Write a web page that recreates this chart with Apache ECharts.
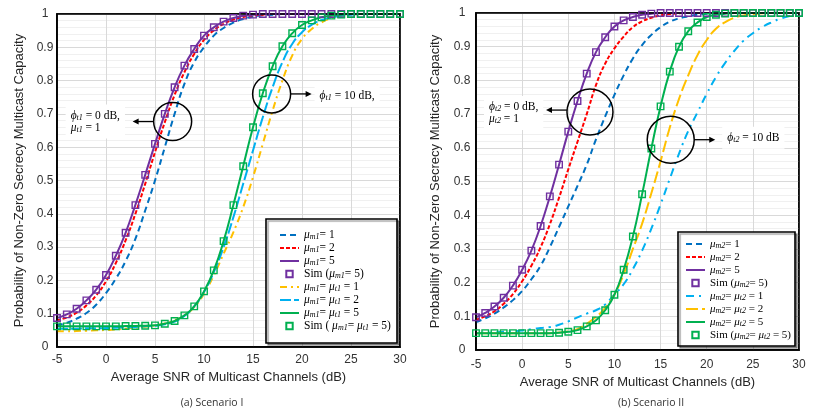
<!DOCTYPE html>
<html>
<head>
<meta charset="utf-8">
<script src="https://cdn.jsdelivr.net/npm/echarts@6/dist/echarts.min.js"></script>
<style>
  html, body { margin: 0; padding: 0; background: #fff; }
  #main { width: 830px; height: 415px; }
</style>
</head>
<body>
<div id="main"></div>
<script>
// average SNR (dB), shared by every curve
const snr = [-5, -4, -3, -2, -1, 0, 1, 2, 3, 4, 5, 6, 7, 8, 9, 10, 11, 12, 13, 14, 15, 16, 17, 18, 19, 20, 21, 22, 23, 24, 25, 26, 27, 28, 29, 30];

// (a) Scenario I
const aM1 = [0.065, 0.073, 0.085, 0.102, 0.127, 0.162, 0.205, 0.258, 0.325, 0.41, 0.5, 0.6, 0.7, 0.79, 0.855, 0.9, 0.935, 0.958, 0.974, 0.985, 0.992, 0.996, 0.998, 1, 1, 1, 1, 1, 1, 1, 1, 1, 1, 1, 1, 1];
const aM2 = [0.08, 0.089, 0.103, 0.125, 0.155, 0.197, 0.252, 0.32, 0.4, 0.49, 0.585, 0.675, 0.757, 0.825, 0.88, 0.922, 0.951, 0.97, 0.983, 0.991, 0.996, 0.998, 1, 1, 1, 1, 1, 1, 1, 1, 1, 1, 1, 1, 1, 1];
const aM5 = [0.087, 0.098, 0.115, 0.14, 0.172, 0.216, 0.274, 0.343, 0.427, 0.517, 0.61, 0.7, 0.78, 0.845, 0.895, 0.935, 0.96, 0.977, 0.988, 0.995, 0.998, 1, 1, 1, 1, 1, 1, 1, 1, 1, 1, 1, 1, 1, 1, 1];
const aSimM5 = [0.087, 0.098, 0.115, 0.14, 0.172, 0.216, 0.274, 0.343, 0.426, 0.517, 0.61, 0.7, 0.78, 0.845, 0.895, 0.935, 0.96, 0.977, 0.988, 0.995, 0.998, 1, 1, 1, 1, 1, 1, 1, 1, 1, 1, 1, 1, 1, 1, 1];
const aT1 = [0.047, 0.047, 0.048, 0.049, 0.05, 0.051, 0.053, 0.055, 0.058, 0.061, 0.065, 0.071, 0.08, 0.095, 0.12, 0.16, 0.215, 0.28, 0.345, 0.42, 0.51, 0.61, 0.71, 0.8, 0.875, 0.925, 0.955, 0.975, 0.987, 0.994, 0.998, 1, 1, 1, 1, 1];
const aT2 = [0.055, 0.055, 0.055, 0.056, 0.056, 0.057, 0.058, 0.059, 0.06, 0.062, 0.064, 0.068, 0.076, 0.093, 0.122, 0.165, 0.225, 0.3, 0.39, 0.49, 0.59, 0.69, 0.78, 0.855, 0.91, 0.945, 0.968, 0.982, 0.99, 0.995, 0.998, 1, 1, 1, 1, 1];
const aT5 = [0.062, 0.062, 0.062, 0.062, 0.062, 0.062, 0.062, 0.063, 0.063, 0.064, 0.065, 0.07, 0.078, 0.095, 0.122, 0.167, 0.23, 0.318, 0.427, 0.543, 0.66, 0.762, 0.843, 0.903, 0.942, 0.967, 0.981, 0.99, 0.995, 0.998, 1, 1, 1, 1, 1, 1];
const aSimT5 = [0.062, 0.062, 0.062, 0.062, 0.062, 0.062, 0.062, 0.063, 0.063, 0.064, 0.065, 0.07, 0.078, 0.095, 0.122, 0.167, 0.23, 0.318, 0.426, 0.543, 0.66, 0.762, 0.843, 0.903, 0.942, 0.967, 0.981, 0.99, 0.995, 0.998, 1, 1, 1, 1, 1, 1];

// (b) Scenario II
const bM1 = [0.083, 0.094, 0.108, 0.126, 0.148, 0.175, 0.21, 0.25, 0.305, 0.365, 0.426, 0.487, 0.55, 0.625, 0.693, 0.757, 0.815, 0.865, 0.905, 0.935, 0.958, 0.974, 0.984, 0.99, 0.995, 0.998, 1, 1, 1, 1, 1, 1, 1, 1, 1, 1];
const bM2 = [0.09, 0.1, 0.115, 0.137, 0.166, 0.204, 0.25, 0.305, 0.373, 0.452, 0.536, 0.618, 0.7, 0.786, 0.85, 0.895, 0.93, 0.958, 0.975, 0.986, 0.993, 0.997, 0.999, 1, 1, 1, 1, 1, 1, 1, 1, 1, 1, 1, 1, 1];
const bM5 = [0.097, 0.11, 0.129, 0.155, 0.191, 0.238, 0.295, 0.368, 0.455, 0.55, 0.648, 0.739, 0.82, 0.884, 0.928, 0.96, 0.978, 0.988, 0.995, 0.998, 1, 1, 1, 1, 1, 1, 1, 1, 1, 1, 1, 1, 1, 1, 1, 1];
const bSimM5 = [0.097, 0.11, 0.129, 0.155, 0.191, 0.238, 0.295, 0.368, 0.456, 0.55, 0.648, 0.739, 0.82, 0.884, 0.928, 0.96, 0.978, 0.988, 0.995, 0.998, 1, 1, 1, 1, 1, 1, 1, 1, 1, 1, 1, 1, 1, 1, 1, 1];
const bT1 = [0.05, 0.051, 0.052, 0.054, 0.056, 0.058, 0.062, 0.065, 0.068, 0.075, 0.085, 0.097, 0.108, 0.118, 0.135, 0.165, 0.195, 0.24, 0.295, 0.36, 0.432, 0.508, 0.583, 0.65, 0.705, 0.76, 0.81, 0.852, 0.888, 0.918, 0.94, 0.958, 0.972, 0.983, 0.991, 0.996];
const bT2 = [0.05, 0.05, 0.05, 0.05, 0.05, 0.05, 0.05, 0.05, 0.05, 0.052, 0.055, 0.062, 0.078, 0.098, 0.125, 0.165, 0.225, 0.3, 0.375, 0.465, 0.56, 0.66, 0.745, 0.815, 0.875, 0.92, 0.953, 0.973, 0.986, 0.993, 0.997, 0.999, 1, 1, 1, 1];
const bT5 = [0.05, 0.05, 0.05, 0.05, 0.05, 0.05, 0.05, 0.05, 0.05, 0.051, 0.054, 0.059, 0.07, 0.088, 0.118, 0.164, 0.238, 0.337, 0.462, 0.598, 0.723, 0.826, 0.9, 0.946, 0.972, 0.988, 0.995, 0.998, 1, 1, 1, 1, 1, 1, 1, 1];
const bSimT5 = [0.05, 0.05, 0.05, 0.05, 0.05, 0.05, 0.05, 0.05, 0.05, 0.051, 0.054, 0.059, 0.07, 0.088, 0.118, 0.164, 0.238, 0.337, 0.462, 0.598, 0.723, 0.826, 0.9, 0.946, 0.972, 0.988, 0.995, 0.998, 1, 1, 1, 1, 1, 1, 1, 1];

const xTicks = { min: -5, max: 30, interval: 5 };
const yTicks = { min: 0, max: 1, interval: 0.1 };

const C = {
  blue: '#0070C0', red: '#FF0000', purple: '#7030A0',
  yellow: '#FFC000', cyan: '#00B0F0', green: '#00B050'
};
const SERIF = 'Liberation Serif';
const SANS = 'Liberation Sans';

// rich text pieces: italic letter, subscript, normal
function richStyles(size) {
  return {
    n: { fontFamily: SERIF, fontSize: size, lineHeight: 12, color: '#000' },
    i: { fontFamily: SERIF, fontSize: size, fontStyle: 'italic', lineHeight: 12, color: '#000' },
    s: { fontFamily: SERIF, fontSize: 8, fontStyle: 'italic', lineHeight: 8, verticalAlign: 'bottom', color: '#000' }
  };
}

const pairs = (vals) => snr.map((x, k) => [x, vals[k]]);

function curve(name, vals, color, dash, idx) {
  return {
    name: name, type: 'line', xAxisIndex: idx, yAxisIndex: idx,
    data: pairs(vals), smooth: true, symbol: 'none',
    lineStyle: { color: color, width: 2, type: dash },
    itemStyle: { color: color },
    z: 2
  };
}
function sim(name, vals, color, idx) {
  return {
    name: name, type: 'line', xAxisIndex: idx, yAxisIndex: idx,
    data: pairs(vals), symbol: 'rect', symbolSize: 6.5, showSymbol: true,
    lineStyle: { width: 0, opacity: 0 },
    itemStyle: { color: 'rgba(255,255,255,0)', borderColor: color, borderWidth: 1.4 },
    z: 5
  };
}

const labels = {
  'a1': '{i|μ}{s|m1}{n|= 1}',
  'a2': '{i|μ}{s|m1}{n|= 2}',
  'a3': '{i|μ}{s|m1}{n|= 5}',
  'a4': '{n|Sim (}{i|μ}{s|m1}{n|= 5)}',
  'a5': '{i|μ}{s|m1}{n|= }{i|μ}{s|t1}{n| = 1}',
  'a6': '{i|μ}{s|m1}{n|= }{i|μ}{s|t1}{n| = 2}',
  'a7': '{i|μ}{s|m1}{n|= }{i|μ}{s|t1}{n| = 5}',
  'a8': '{n|Sim ( }{i|μ}{s|m1}{n|= }{i|μ}{s|t1}{n| = 5)}',
  'b1': '{i|μ}{s|m2}{n|= 1}',
  'b2': '{i|μ}{s|m2}{n|= 2}',
  'b3': '{i|μ}{s|m2}{n|= 5}',
  'b4': '{n|Sim (}{i|μ}{s|m2}{n|= 5)}',
  'b5': '{i|μ}{s|m2}{n|= }{i|μ}{s|t2}{n| = 1}',
  'b6': '{i|μ}{s|m2}{n|= }{i|μ}{s|t2}{n| = 2}',
  'b7': '{i|μ}{s|m2}{n|= }{i|μ}{s|t2}{n| = 5}',
  'b8': '{n|Sim (}{i|μ}{s|m2}{n|= }{i|μ}{s|t2}{n| = 5)}'
};

const series = [
  curve('a1', aM1, C.blue, [6, 4], 0),
  curve('a2', aM2, C.red, [4, 2], 0),
  curve('a3', aM5, C.purple, 'solid', 0),
  curve('a5', aT1, C.yellow, [7, 4, 2, 4], 0),
  curve('a6', aT2, C.cyan, [11, 3], 0),
  curve('a7', aT5, C.green, 'solid', 0),
  sim('a4', aSimM5, C.purple, 0),
  sim('a8', aSimT5, C.green, 0),
  curve('b1', bM1, C.blue, [6, 4], 1),
  curve('b2', bM2, C.red, [4, 2], 1),
  curve('b3', bM5, C.purple, 'solid', 1),
  curve('b5', bT1, C.cyan, [8, 5, 2, 5], 1),
  curve('b6', bT2, C.yellow, [12, 4], 1),
  curve('b7', bT5, C.green, 'solid', 1),
  sim('b4', bSimM5, C.purple, 1),
  sim('b8', bSimT5, C.green, 1)
];

function xAxis(idx, margin) {
  return {
    type: 'value', gridIndex: idx, min: xTicks.min, max: xTicks.max, interval: xTicks.interval,
    name: 'Average SNR of Multicast Channels (dB)', nameLocation: 'middle', nameGap: 23,
    nameTextStyle: { fontFamily: SANS, fontSize: 13, color: '#262626' },
    axisLine: { show: true, onZero: false, lineStyle: { color: '#000', width: 1.5 } },
    axisTick: { show: false },
    axisLabel: { fontFamily: SANS, fontSize: 12, color: '#333', margin: margin },
    splitLine: { show: true, lineStyle: { color: '#d9d9d9', width: 1 } }
  };
}
function yAxis(idx, gap, margin) {
  return {
    type: 'value', gridIndex: idx, min: yTicks.min, max: yTicks.max, interval: yTicks.interval,
    name: 'Probability of Non-Zero Secrecy Multicast Capacity', nameLocation: 'middle', nameGap: gap,
    nameTextStyle: { fontFamily: SANS, fontSize: 13, color: '#262626' },
    axisLine: { show: true, onZero: false, lineStyle: { color: '#000', width: 1.5 } },
    axisTick: { show: false },
    axisLabel: { fontFamily: SANS, fontSize: 12, color: '#333', margin: margin, align: 'center' },
    splitLine: { show: true, lineStyle: { color: '#d9d9d9', width: 1 } },
    minorTick: { show: false, splitNumber: 5 },
    minorSplitLine: { show: true, lineStyle: { color: '#f0f0f0', width: 1 } }
  };
}
function legend(names, left, top, size) {
  return {
    orient: 'vertical', left: left, top: top, padding: 0,
    itemWidth: 19, itemHeight: 8, itemGap: 1, itemTextGap: 6,
    // plain curves show only their line in the key, the Sim entries only their square
    data: names.map((n, k) => (k === 3 || k === 7) ? { name: n } : { name: n, itemStyle: { opacity: 0 } }),
    selectedMode: false,
    formatter: (n) => labels[n],
    textStyle: { fontFamily: SERIF, fontSize: size, lineHeight: 12, color: '#000', rich: richStyles(size) },
    z: 6
  };
}

const chart = echarts.init(document.getElementById('main'));
chart.setOption({
  backgroundColor: '#fff',
  animation: false,
  grid: [
    { left: 57, top: 14, width: 343, height: 333, show: true, borderColor: '#000', borderWidth: 1.5 },
    { left: 476, top: 13, width: 323, height: 337, show: true, borderColor: '#000', borderWidth: 1.5 }
  ],
  xAxis: [xAxis(0, 7), xAxis(1, 9)],
  yAxis: [yAxis(0, 31, 12), yAxis(1, 34, 14)],
  legend: [
    legend(['a1', 'a2', 'a3', 'a4', 'a5', 'a6', 'a7', 'a8'], 279, 229, 11.5),
    legend(['b1', 'b2', 'b3', 'b4', 'b5', 'b6', 'b7', 'b8'], 685, 238, 11)
  ],
  series: series
});

// annotations: circles around curve groups, arrows, and labels
function annotation(idx, at, r, dir, text, textDx, textDy) {
  const p = chart.convertToPixel({ gridIndex: idx }, at);
  const cx = p[0], cy = p[1];
  const ay = cy + (idx === 1 && dir < 0 ? -2 : 0);
  const x1 = cx + dir * r, x2 = x1 + dir * 21;
  return [
    { type: 'circle', shape: { cx: cx, cy: cy, r: r }, style: { fill: 'none', stroke: '#000', lineWidth: 1.5 }, z: 20 },
    { type: 'line', shape: { x1: x1, y1: ay, x2: x2 - dir * 4, y2: ay }, style: { stroke: '#000', lineWidth: 1.3 }, z: 20 },
    { type: 'polygon', shape: { points: [[x2, ay], [x2 - dir * 6, ay - 3], [x2 - dir * 6, ay + 3]] }, style: { fill: '#000' }, z: 20 },
    {
      type: 'text', x: x2 + textDx, y: cy + textDy, z: 20,
      style: {
        text: text, rich: richStyles(11.5), backgroundColor: '#fff', padding: [5, 5, 5, 5],
        align: 'left', verticalAlign: 'middle', lineHeight: 14
      }
    }
  ];
}
// frame drawn over the split lines so the plot border stays solid
function frame(idx) {
  const a = chart.convertToPixel({ gridIndex: idx }, [xTicks.min, yTicks.max]);
  const b = chart.convertToPixel({ gridIndex: idx }, [xTicks.max, yTicks.min]);
  return {
    type: 'rect', shape: { x: a[0], y: a[1], width: b[0] - a[0], height: b[1] - a[1] }, z: 3,
    style: { fill: 'none', stroke: '#000', lineWidth: 1.6 }
  };
}
function legendBox(x, y, w, h) {
  return {
    type: 'rect', shape: { x: x, y: y, width: w, height: h }, z: 4,
    style: { fill: '#fff', stroke: '#000', lineWidth: 1.6, shadowColor: 'rgba(0,0,0,0.35)', shadowOffsetX: 2, shadowOffsetY: 2, shadowBlur: 1 }
  };
}
function caption(text, x) {
  return {
    type: 'text', x: x, y: 403, z: 20,
    style: { text: text, fontFamily: 'Open Sans', fontSize: 10.5, fill: '#333', align: 'center', verticalAlign: 'middle' }
  };
}

const graphics = [].concat(
  [frame(0), frame(1)],
  [legendBox(266, 219, 131, 124), legendBox(678, 232, 117, 114)],
  annotation(0, [6.8, 0.677], 19, -1, '{i|ϕ}{s|t1}{n| = 0 dB,}\n{i|μ}{s|t1}{n| = 1}', -67, 0),
  annotation(0, [16.9, 0.76], 19, 1, '{i|ϕ}{s|t1}{n| = 10 dB,}', 3, 2),
  annotation(1, [7.35, 0.706], 23, -1, '{i|ϕ}{s|t2}{n| = 0 dB,}\n{i|μ}{s|t2}{n| = 1}', -62, 1),
  annotation(1, [16.1, 0.624], 23.5, 1, '{i|ϕ}{s|t2}{n| = 10 dB}', 7, -2),
  [caption('(a) Scenario I', 212), caption('(b) Scenario II', 651)]
);
chart.setOption({ graphic: graphics });
</script>
</body>
</html>
